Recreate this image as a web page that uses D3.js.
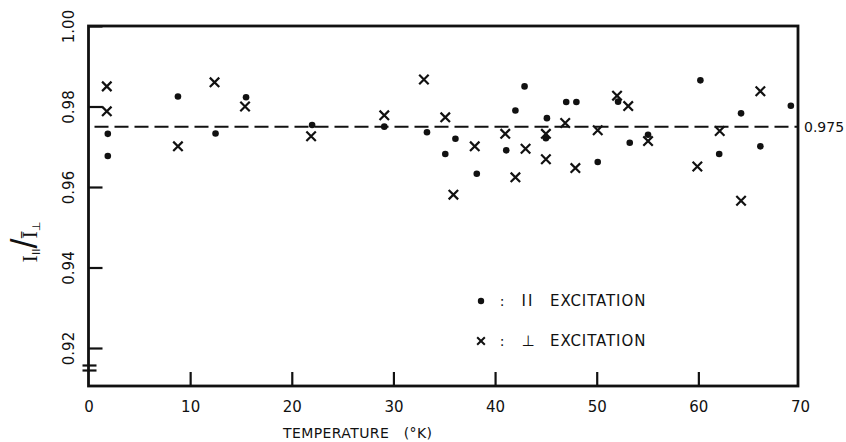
<!DOCTYPE html>
<html><head><meta charset="utf-8">
<script src="https://cdn.jsdelivr.net/npm/d3@7"></script>
<style>body{margin:0;background:#fff}svg{display:block}text{fill:#111}</style>
</head><body>
<svg id="chart" width="846" height="442"></svg>
<script>
// ∥ excitation (dots)
const dotTemp  = [1.9,1.9,8.8,12.5,15.5,22.0,29.1,33.3,35.1,36.1,38.2,41.1,42.0,42.9,45.1,45.0,47.0,48.0,50.1,52.1,53.25,55.05,60.2,62.05,64.2,66.1,69.1];
const dotRatio = [0.9732,0.9677,0.9825,0.9733,0.9823,0.9754,0.9750,0.9736,0.9682,0.9720,0.9633,0.9691,0.9790,0.9850,0.9771,0.9721,0.9811,0.9811,0.9662,0.9812,0.9710,0.9730,0.9865,0.9682,0.9783,0.9701,0.9802];
// ⊥ excitation (crosses)
const crossTemp  = [1.8,1.8,8.8,12.4,15.4,21.9,29.1,33.0,35.1,35.9,38.0,41.0,42.0,43.0,45.0,45.0,46.9,47.9,50.1,52.0,53.1,55.05,59.9,62.1,64.2,66.1];
const crossRatio = [0.9850,0.9788,0.9701,0.9860,0.9800,0.9726,0.9778,0.9867,0.9773,0.9581,0.9701,0.9732,0.9624,0.9695,0.9732,0.9669,0.9759,0.9647,0.9741,0.9827,0.9801,0.9714,0.9651,0.9739,0.9566,0.9838];
const xTicks = [0,10,20,30,40,50,60,70];
const yTicks = [0.92,0.94,0.96,0.98,1.00];
const refLevel = 0.975;
const legendItems = [{sym:"dot", label:"II"}, {sym:"cross", label:"⊥"}];

const svg = d3.select("#chart");
const L = 88.5, R = 798, T = 26, B = 386;
const font = "DejaVu Sans, sans-serif";
const x = d3.scaleLinear().domain([0,70]).range([88.5, 800]);
const y = d3.scaleLinear().domain([0.92,1.00]).range([348, 26]);

// frame
svg.append("rect").attr("x",L).attr("y",T).attr("width",R-L).attr("height",B-T)
  .attr("fill","none").attr("stroke","#111").attr("stroke-width",2.8);

// y axis
const gy = svg.append("g").attr("transform",`translate(${L},0)`)
  .call(d3.axisLeft(y).tickValues(yTicks).tickSizeInner(-14).tickSizeOuter(0).tickFormat(d3.format(".2f")));
gy.select(".domain").remove();
gy.selectAll(".tick line").attr("stroke","#111").attr("stroke-width",2.2);
gy.selectAll(".tick text").attr("x",0).attr("dy",0).attr("transform","translate(-15,0) rotate(-90)")
  .attr("text-anchor","middle").attr("font-family",font).attr("font-size",15).attr("fill","#111");

// x axis
const gx = svg.append("g").attr("transform",`translate(0,${B})`)
  .call(d3.axisBottom(x).tickValues(xTicks).tickSizeInner(-14).tickSizeOuter(0).tickPadding(15).tickFormat(d3.format("d")));
gx.select(".domain").remove();
gx.selectAll(".tick line").attr("stroke","#111").attr("stroke-width",2.2)
  .filter(d => d===0 || d===70).remove();
gx.selectAll(".tick text").attr("font-family",font).attr("font-size",15).attr("fill","#111");

// axis break marks
[365.5, 370.5].forEach(yy => svg.append("line").attr("x1",L-6).attr("x2",L+8).attr("y1",yy).attr("y2",yy)
  .attr("stroke","#111").attr("stroke-width",2.2));

// reference line
svg.append("line").attr("x1",L+6).attr("x2",R).attr("y1",y(refLevel)).attr("y2",y(refLevel))
  .attr("stroke","#111").attr("stroke-width",2).attr("stroke-dasharray","14,6");
svg.append("text").attr("x",R+6).attr("y",y(refLevel)).attr("dy","0.35em")
  .attr("font-family",font).attr("font-size",14).text(d3.format(".3f")(refLevel));

// markers
const dots = dotTemp.map((t,i)=>({t, v:dotRatio[i]}));
const crosses = crossTemp.map((t,i)=>({t, v:crossRatio[i]}));
svg.append("g").selectAll("circle").data(dots).join("circle")
  .attr("cx",d=>x(d.t)).attr("cy",d=>y(d.v)).attr("r",3.3).attr("fill","#111");
const crossPath = d3.symbol().type(d3.symbolX).size(60);
svg.append("g").selectAll("path").data(crosses).join("path")
  .attr("transform",d=>`translate(${x(d.t)},${y(d.v)})`).attr("d",crossPath())
  .attr("fill","none").attr("stroke","#111").attr("stroke-width",2.2);

// legend
const lg = svg.append("g");
legendItems.forEach((it,i) => {
  const yy = 301 + i*40;
  if (it.sym==="dot") lg.append("circle").attr("cx",481).attr("cy",yy).attr("r",3.2).attr("fill","#111");
  else lg.append("path").attr("transform",`translate(481,${yy})`).attr("d",d3.symbol().type(d3.symbolX).size(40)())
        .attr("fill","none").attr("stroke","#111").attr("stroke-width",2);
  lg.append("text").attr("x",502).attr("y",yy).attr("dy","0.35em").attr("text-anchor","middle")
    .attr("font-family",font).attr("font-size",14).text(":");
  lg.append("text").attr("x",528).attr("y",yy).attr("dy","0.35em").attr("text-anchor","middle")
    .attr("font-family",font).attr("font-size",15).attr("letter-spacing", it.label==="II" ? 2 : 0).text(it.label);
  lg.append("text").attr("x",550).attr("y",yy).attr("dy","0.35em")
    .attr("font-family",font).attr("font-size",15).attr("letter-spacing",0.9).text("EXCITATION");
});

// x title
svg.append("text").attr("x",283).attr("y",433).attr("dy","0.35em")
  .attr("font-family",font).attr("font-size",14).attr("letter-spacing",0.4).attr("xml:space","preserve").text("TEMPERATURE   (°K)");

// y title
const yt = svg.append("text").attr("transform","translate(37,242) rotate(-90)").attr("text-anchor","middle")
  .attr("font-family","Liberation Serif, serif").attr("font-size",22);
yt.append("tspan").text("I");
yt.append("tspan").attr("font-size",11).attr("dy",3).attr("font-family",font).text("II");
yt.append("tspan").attr("font-size",36).attr("dy",-3).attr("font-family","Liberation Sans, sans-serif").text("/");
yt.append("tspan").attr("dy",0).text("Ī");
yt.append("tspan").attr("font-size",11).attr("dy",3).attr("font-family",font).text("⊥");
</script>
</body></html>
